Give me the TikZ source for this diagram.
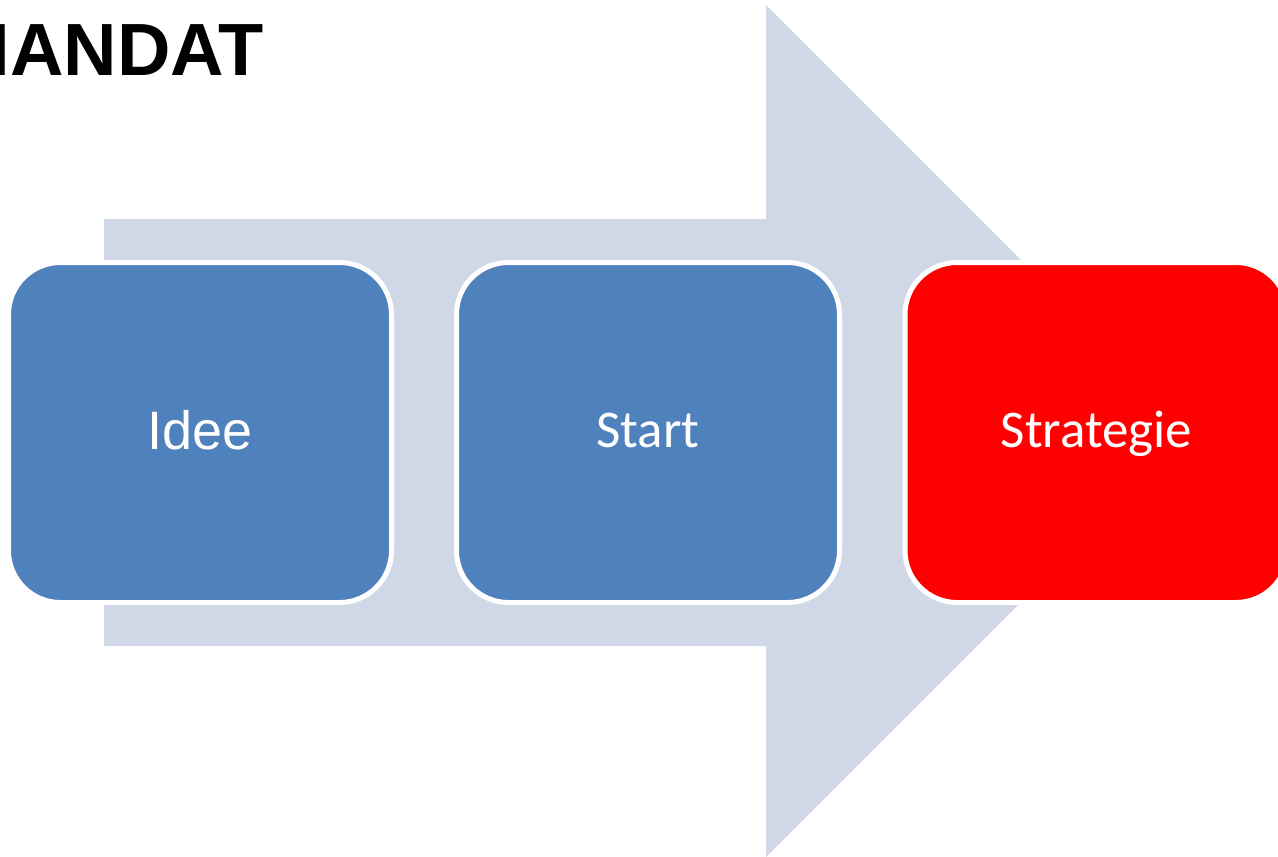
\documentclass[tikz,border=0pt]{standalone}
\usepackage{fontspec}
\setmainfont{Carlito}
\newfontfamily\titlefont{Liberation Sans}
\definecolor{arrowgray}{HTML}{D0D8E8}
\definecolor{boxblue}{HTML}{4F81BD}
\definecolor{boxred}{HTML}{FF0000}
\begin{document}
\begin{tikzpicture}[x=1pt,y=-1pt,
  stepbox/.style={draw=white, line width=5pt, rounded corners=52pt,
    minimum width=383pt, minimum height=340pt, inner sep=0pt,
    text=white, font=\fontsize{53}{60}\selectfont,
    text height=29pt, text depth=0pt}]
\useasboundingbox (0,0) rectangle (1278,857);
\clip (0,0) rectangle (1278,857);
\fill[arrowgray] (104,219) -- (766,219) -- (766,5) -- (1192,431) -- (766,857) -- (766,646) -- (104,646) -- cycle;
\node[anchor=base east, inner sep=0pt, font=\titlefont\bfseries\fontsize{74}{80}\selectfont] (title) at (264,75) {MANDAT};
\node[stepbox, fill=boxblue, font=\titlefont\fontsize{54}{60}\selectfont, text height=33pt] (idee) at (200,432.5) {Idee};
\node[stepbox, fill=boxblue] (start) at (648,432.5) {Start};
\node[stepbox, fill=boxred] (strategie) at (1096.5,432.5) {Strategie};
\end{tikzpicture}
\end{document}
